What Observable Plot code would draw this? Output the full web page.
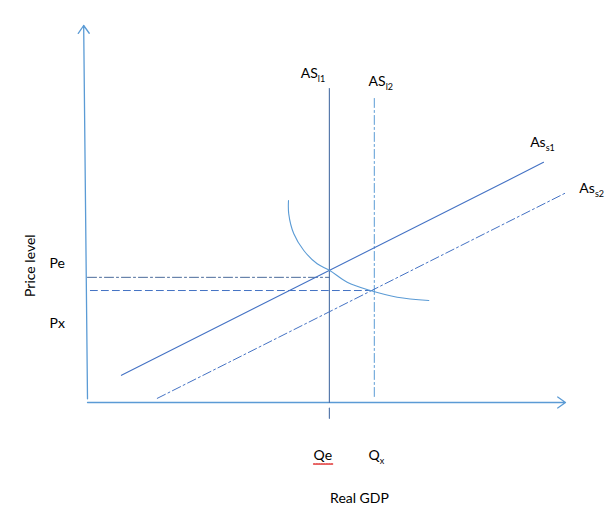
<!DOCTYPE html>
<html><head><meta charset="utf-8">
<script src="https://cdn.jsdelivr.net/npm/d3@7"></script>
<script src="https://cdn.jsdelivr.net/npm/@observablehq/plot@0.6"></script>
<style>
body{margin:0;background:#fff;}
svg{font-family:Lato,"Open Sans",sans-serif;}
</style>
</head><body><div id="chart"></div>
<script>
// Axes (economic units: Real GDP on x, Price level on y, both 0..100)
const axisArrows = [
  {name: "Price level", x1: 0, y1: 1, x2: -0.8, y2: 100},
  {name: "Real GDP", x1: 0, y1: 0, x2: 100, y2: 0}
];
// Equilibrium quantities and price levels
const Qe = 50.6, Qx = 60.0;
const Pe = 33.2, Px = 29.7;

// Long-run aggregate supply (vertical)
const asL1 = [{x: Qe, y: 0}, {x: Qe, y: 83.3}];
const asL1Below = [{x: Qe, y: -1.5}, {x: Qe, y: -4.2}];
const asL2 = [{x: Qx, y: 1.6}, {x: Qx, y: 81.4}];
// Short-run aggregate supply
const asS1 = [{x: 7.1, y: 7.2}, {x: 95.4, y: 63.7}];
const asS2 = [{x: 14.6, y: 1.1}, {x: 100.2, y: 55.7}];
// Aggregate demand curve
const adX = [42.05, 42.1, 43.16, 45.25, 48.05, 50.69, 54.33, 59.2, 64.79, 71.4];
const adY = [53.58, 50.05, 44.75, 40.32, 36.79, 35.01, 31.91, 29.7, 27.93, 27.06];
const ad = adX.map((x, i) => ({x, y: adY[i]}));
// Price guide lines
const peLine = [{x: 0, y: Pe}, {x: Qe, y: Pe}];
const pxLine = [{x: 0.6, y: Px}, {x: Qx, y: Px}];
// spell-check underline under "Qe"
const qeSquiggle = [{x: 47.3, y: -16.3}, {x: 51.3, y: -16.3}];

// Labels (main text, subscript, anchor in data units)
const curveLabels = [
  {main: "AS", sub: "l1", x: 44.6, y: 87.3},
  {main: "AS", sub: "l2", x: 58.8, y: 85.1},
  {main: "As", sub: "s1", x: 92.6, y: 69.0},
  {main: "As", sub: "s2", x: 102.9, y: 56.8},
  {main: "Q", sub: "x", x: 58.8, y: -14.1}
];
const qeLabel = [{text: "Qe", x: 47.3, y: -14.1}];
const priceLabels = [{text: "Pe", x: -7.95, y: 36.9}, {text: "Px", x: -7.95, y: 21.0}];
const axisTitles = [
  {text: "Price level", x: -11.9, y: 36.3, rotate: -90},
  {text: "Real GDP", x: 56.9, y: -25.6, rotate: 0}
];

const blue = "#4472c4", light = "#5b9bd5";
const fs = 14;

const chart = Plot.plot({
  width: 607, height: 507,
  marginLeft: 87, marginRight: 42, marginTop: 25, marginBottom: 105,
  x: {domain: [0, 100], axis: null},
  y: {domain: [0, 100], axis: null},
  style: {fontFamily: "Lato, 'Open Sans', sans-serif", background: "#fff"},
  marks: [
    Plot.arrow(axisArrows, {x1: "x1", y1: "y1", x2: "x2", y2: "y2", stroke: light, strokeWidth: 1.3, headLength: 11, headAngle: 70}),
    Plot.line(peLine, {x: "x", y: "y", stroke: "#4a6a9a", strokeWidth: 1, strokeDasharray: "9,3,2,3"}),
    Plot.line(pxLine, {x: "x", y: "y", stroke: blue, strokeWidth: 1, strokeDasharray: "7,4"}),
    Plot.line(asL1, {x: "x", y: "y", stroke: "#4a6fa5", strokeWidth: 1.1}),
    Plot.line(asL1Below, {x: "x", y: "y", stroke: "#4a6fa5", strokeWidth: 1.1}),
    Plot.line(asL2, {x: "x", y: "y", stroke: light, strokeWidth: 1, strokeDasharray: "9,3,2,3"}),
    Plot.line(asS1, {x: "x", y: "y", stroke: blue, strokeWidth: 1.1}),
    Plot.line(asS2, {x: "x", y: "y", stroke: blue, strokeWidth: 1, strokeDasharray: "9,3,2,3"}),
    Plot.line(ad, {x: "x", y: "y", stroke: light, strokeWidth: 1.1, curve: "catmull-rom"}),
    Plot.line(qeSquiggle, {x: "x", y: "y", stroke: "#e03030", strokeWidth: 1.4, strokeDasharray: "1.5,1"}),
    Plot.text(curveLabels, {x: "x", y: "y", text: "main", textAnchor: "start", fontSize: fs, fill: "#000", className: "sub-labels"}),
    Plot.text(qeLabel, {x: "x", y: "y", text: "text", textAnchor: "start", fontSize: fs, fill: "#000"}),
    Plot.text(priceLabels, {x: "x", y: "y", text: "text", textAnchor: "start", fontSize: fs, fill: "#000"}),
    Plot.text(axisTitles, {x: "x", y: "y", text: "text", rotate: "rotate", fontSize: fs, fill: "#000"})
  ]
});
document.getElementById("chart").appendChild(chart);
// add subscripts
d3.select(chart).selectAll(".sub-labels text").each(function(i) {
  const d = curveLabels[i];
  d3.select(this).append("tspan").attr("font-size", 9).attr("dy", "0.45em").text(d.sub);
});
</script>
</body></html>
